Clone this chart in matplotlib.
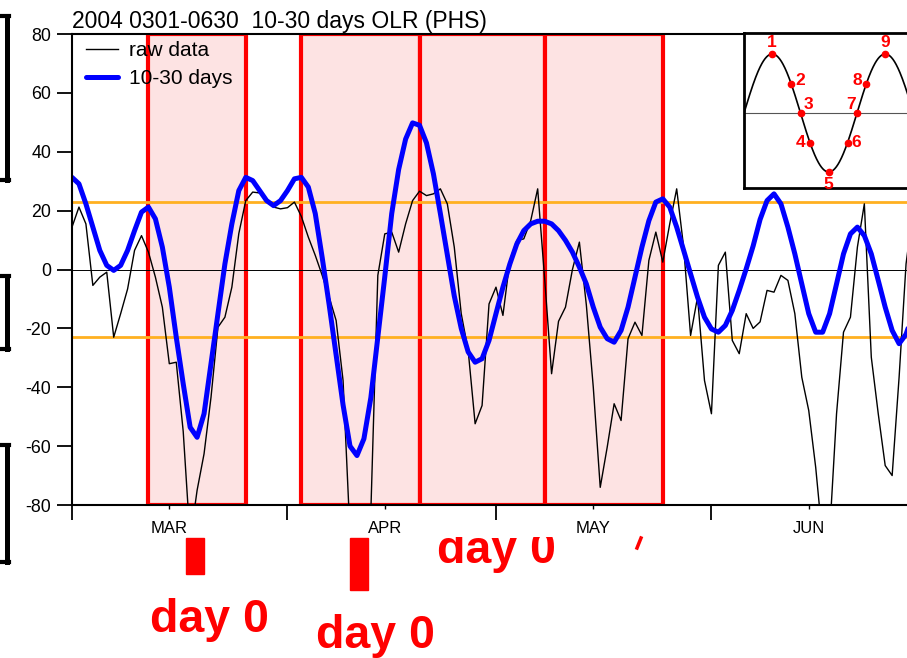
import numpy as np
import matplotlib
matplotlib.use('Agg')
import matplotlib.pyplot as plt
from matplotlib.patches import Rectangle
from matplotlib.lines import Line2D

plt.rcParams['font.family'] = ['Liberation Sans', 'DejaVu Sans']

# ---------------- data ----------------
days = list(range(122))  # 2004-03-01 .. 2004-06-30
raw = [14.4, 21.2, 15.5, -5.4, -2.6, -0.9, -23.0, -15.0, -6.6, 6.5,
       11.5, 5.9, -2.6, -12.8, -32.0, -31.5, -55.0, -92.0, -75.0, -62.6,
       -43.4, -19.6, -16.2, -6.0, 12.2, 23.4, 26.3, 26.0, 24.0, 21.2,
       20.6, 21.0, 22.9, 18.0, 11.0, 4.8, -2.0, -9.4, -17.3, -37.7,
       -90.0, -100.0, -95.0, -82.0, -2.0, 12.1, 12.7, 5.9, 15.5, 23.4,
       26.6, 25.1, 25.7, 27.4, 22.3, 7.6, -15.0, -27.5, -52.4, -46.2,
       -11.7, -6.0, -15.6, 3.1, 9.9, 10.4, 16.6, 27.4, -3.0, -35.4,
       -17.6, -12.8, 0.0, 9.3, -12.0, -40.0, -74.0, -60.4, -45.6, -51.3,
       -23.5, -17.9, -22.4, 3.1, 12.7, 2.5, 15.5, 27.4, 7.6, -22.4,
       -9.4, -37.7, -49.0, 1.4, 5.9, -24.1, -28.6, -15.0, -20.0, -17.8,
       -7.1, -7.7, -2.0, -3.7, -15.0, -36.6, -47.9, -67.2, -92.0, -90.0,
       -49.0, -21.3, -16.2, 7.6, 22.3, -29.8, -49.0, -66.6, -70.0, -36.6,
       1.9, 20.0]
filt = [31.3, 29.1, 22.3, 14.4, 6.5, 1.4, -0.3, 1.4, 6.5, 13.2,
        19.5, 21.2, 17.2, 7.6, -6.0, -23.0, -38.8, -53.6, -57.0, -49.0,
        -32.0, -15.0, 1.9, 15.5, 26.8, 31.3, 30.2, 26.8, 23.4, 21.7,
        23.4, 26.8, 30.8, 31.3, 28.0, 19.0, 4.0, -12.0, -29.0, -46.0,
        -60.0, -63.2, -57.5, -43.5, -23.0, -2.5, 19.0, 34.0, 44.3, 49.8,
        49.0, 43.0, 32.5, 19.0, 5.0, -9.0, -20.0, -28.0, -31.5, -30.3,
        -24.1, -15.0, -6.0, 1.9, 8.7, 13.2, 15.5, 16.4, 16.4, 15.5,
        13.2, 9.9, 5.9, 0.8, -4.9, -12.8, -19.6, -23.5, -24.7, -20.7,
        -12.8, -2.6, 7.6, 16.6, 22.9, 24.0, 21.2, 14.4, 6.5, -1.5,
        -9.4, -16.2, -20.2, -21.3, -19.0, -13.9, -7.1, 0.2, 8.0, 17.0,
        23.4, 25.7, 22.3, 14.4, 5.3, -4.9, -15.0, -21.3, -21.3, -15.0,
        -4.9, 5.3, 12.1, 14.4, 11.5, 5.3, -3.7, -12.8, -20.7, -25.2,
        -22.0, -15.0]
month_labels = ['MAR', 'APR', 'MAY', 'JUN']
month_starts = [0, 31, 61, 92]
month_mids = [14, 45, 75, 106]
yticks = [80, 60, 40, 20, 0, -20, -40, -60, -80]
event_boxes = [(11, 25), (33, 50), (50, 68), (68, 85)]
threshold = 23
title = '2004 0301-0630  10-30 days OLR (PHS)'
legend_labels = ['raw data', '10-30 days']
phase_labels = ['1', '2', '3', '4', '5', '6', '7', '8', '9']
phase_deg = [90, 150, 180, 210, 270, 330, 360, 390, 450]
annot_text = 'day 0'

# ---------------- figure ----------------
W, H = 907, 658
fig = plt.figure(figsize=(W / 100, H / 100), dpi=100)
fig.patch.set_facecolor('white')


def fx(x):
    return x / W


def fy(y):
    return 1 - y / H


ax = fig.add_axes([fx(72), fy(505), (913 - 72) / W, (505 - 34) / H])
ax.set_xlim(0, 121)
ax.set_ylim(-80, 80)

for a, b in event_boxes:
    ax.add_patch(Rectangle((a, -80), b - a, 160, facecolor='#FDE3E3',
                           edgecolor='#FF0000', lw=3, zorder=1))
ax.axhline(threshold, color='#FFB020', lw=2, zorder=2)
ax.axhline(-threshold, color='#FFB020', lw=2, zorder=2)
ax.axhline(0, color='black', lw=0.7, zorder=2)
l1, = ax.plot(days, raw, color='black', lw=1.0, zorder=4)
l2, = ax.plot(days, filt, color='#0000FF', lw=3.6, zorder=5,
              solid_joinstyle='round', solid_capstyle='round')

for s in ax.spines.values():
    s.set_linewidth(1.5)
    s.set_zorder(10)

ax.set_yticks(yticks)
ax.set_yticklabels([str(v) for v in yticks])
ax.tick_params(axis='y', which='major', direction='out', length=11,
               width=1.3, labelsize=12.8, pad=4)
ax.set_xticks(month_starts)
ax.set_xticklabels([])
ax.set_xticks(month_mids, minor=True)
ax.set_xticklabels(month_labels, minor=True)
ax.tick_params(axis='x', which='major', direction='out', length=11, width=1.3)
ax.tick_params(axis='x', which='minor', direction='out', length=3, width=1.0,
               labelsize=12, pad=8.5)

fig.text(fx(72), fy(28), title, fontsize=16.5, ha='left', va='baseline')

ax.legend([l1, l2], legend_labels, loc='upper left',
          bbox_to_anchor=(fx(86), fy(41)), bbox_transform=fig.transFigure,
          frameon=False, fontsize=15, handlelength=1.55, handletextpad=0.5,
          labelspacing=0.45, borderpad=0, borderaxespad=0)

# ---------------- inset schematic ----------------
iax = fig.add_axes([fx(744), fy(188), (935 - 744) / W, (188 - 33) / H])
iax.set_facecolor('white')
iax.set_zorder(20)
iax.set_xlim(0, (935 - 744) / 113 * 360)
iax.set_ylim(-75 / 59, 80 / 59)
th = np.linspace(0, 620, 500)
iax.plot(th, np.sin(np.radians(th)), color='black', lw=1.2)
iax.axhline(0, color='#555555', lw=0.8)
pv = [np.sin(np.radians(p)) for p in phase_deg]
iax.plot(phase_deg, pv, 'o', color='#FF0000', ms=4.5)
offs = [(0, 3, 'center', 'bottom'), (3, 2, 'left', 'center'),
        (2, 1, 'left', 'bottom'), (-3, 0, 'right', 'center'),
        (0, -3.5, 'center', 'top'), (3, 0, 'left', 'center'),
        (-1, 1, 'right', 'bottom'), (-3, 2, 'right', 'center'),
        (0, 3, 'center', 'bottom')]
for lab, p, v, (dx, dy, ha, va) in zip(phase_labels, phase_deg, pv, offs):
    iax.annotate(lab, (p, v), xytext=(dx, dy), textcoords='offset points',
                 ha=ha, va=va, color='#FF0000', fontsize=12.5, fontweight='bold')
iax.set_xticks([])
iax.set_yticks([])
for s in iax.spines.values():
    s.set_linewidth(2)

# ---------------- below-chart annotations ----------------
for (x0, y0, x1, y1) in [(186, 538, 204, 574), (350, 538, 368, 590)]:
    fig.add_artist(Rectangle((fx(x0), fy(y1)), (x1 - x0) / W, (y1 - y0) / H,
                             transform=fig.transFigure, color='#FF0000'))
fig.text(fx(150), fy(632), annot_text, fontsize=33.5, fontweight='bold',
         color='#FF0000', ha='left', va='baseline')
fig.text(fx(316), fy(648), annot_text, fontsize=33.5, fontweight='bold',
         color='#FF0000', ha='left', va='baseline')
fig.text(fx(437), fy(563), annot_text, fontsize=33.5, fontweight='bold',
         color='#FF0000', ha='left', va='baseline', zorder=3)
# white strip hides the top of the third label, as in the reference
fig.add_artist(Rectangle((fx(430), fy(537)), (565 - 430) / W, (537 - 521) / H,
                         transform=fig.transFigure, facecolor='white',
                         edgecolor='none', zorder=6))
fig.add_artist(Line2D([fx(641), fx(637)], [fy(538), fy(548)],
                      transform=fig.transFigure, color='#FF0000', lw=2.5))

# left black brackets (remnants of neighbouring slide content)
for top, bot in [(16, 180), (276, 349), (445, 562)]:
    fig.add_artist(Line2D([fx(6.5), fx(6.5)], [fy(top), fy(bot)],
                          transform=fig.transFigure, color='black', lw=3.6))
    for yy in (top, bot):
        fig.add_artist(Line2D([fx(0), fx(8.5)], [fy(yy), fy(yy)],
                              transform=fig.transFigure, color='black', lw=3))

fig.savefig('out.png', dpi=100, facecolor='white')
